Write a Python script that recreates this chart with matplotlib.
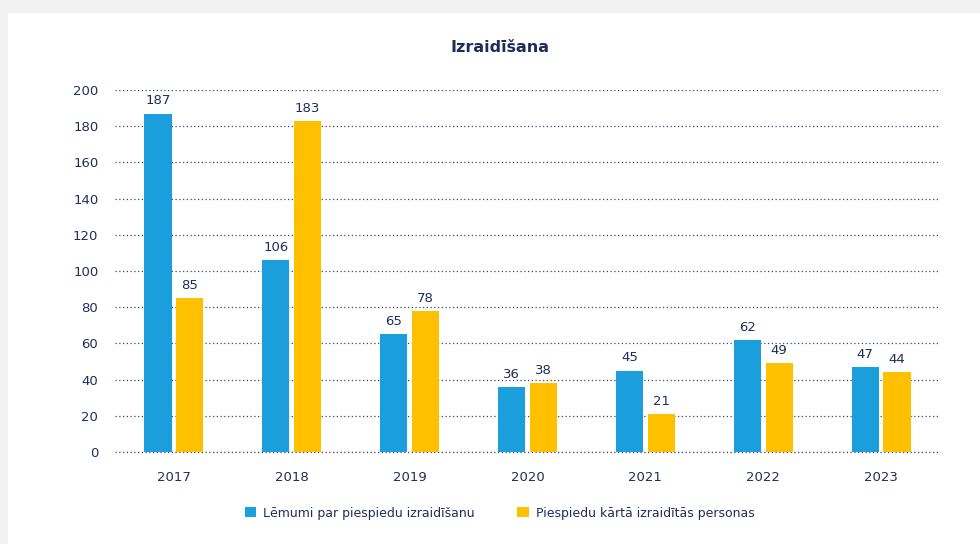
import numpy as np
import matplotlib.pyplot as plt
from matplotlib.patches import Rectangle

# data
years = ["2017", "2018", "2019", "2020", "2021", "2022", "2023"]
decisions = [187, 106, 65, 36, 45, 62, 47]
expelled = [85, 183, 78, 38, 21, 49, 44]
series_names = ["Lēmumi par piespiedu izraidīšanu", "Piespiedu kārtā izraidītās personas"]
y_ticks = [0, 20, 40, 60, 80, 100, 120, 140, 160, 180, 200]

BLUE = "#1A9FDC"
YELLOW = "#FFC000"
NAVY = "#1F2D5A"
GRID = "#3A4670"

plt.rcParams["font.family"] = ["DejaVu Sans"]

fig = plt.figure(figsize=(9.8, 5.44), dpi=100, facecolor="#F2F2F2")
# white card with a light shadow above
fig.patches.append(Rectangle((8 / 980, 0), 1, 1 - 13 / 544, transform=fig.transFigure,
                             facecolor="white", edgecolor="none", zorder=-5))

ax = fig.add_axes([115 / 980, 92 / 544, 825 / 980, 362 / 544])
ax.set_zorder(2)
ax.set_facecolor("white")

x = np.arange(len(years))
width = 0.23
offset = 0.135

bars1 = ax.bar(x - offset, decisions, width, color=BLUE, label=series_names[0], zorder=3)
bars2 = ax.bar(x + offset, expelled, width, color=YELLOW, label=series_names[1], zorder=3)

for bars in (bars1, bars2):
    for b in bars:
        ax.annotate(f"{int(b.get_height())}", (b.get_x() + b.get_width() / 2, b.get_height()),
                    xytext=(0, 4.5), textcoords="offset points", ha="center", va="bottom",
                    fontsize=9.5, color=NAVY)

ax.set_xlim(-0.5, len(years) - 0.5)
ax.set_ylim(0, 200)
ax.set_yticks(y_ticks)
ax.set_xticks(x)
ax.set_xticklabels(years)
ax.tick_params(axis="both", length=0, labelsize=9.5, labelcolor=NAVY)
ax.tick_params(axis="x", pad=14)
ax.tick_params(axis="y", pad=12)
ax.grid(axis="y", color=GRID, linestyle=(0, (1, 2)), linewidth=0.9, zorder=1)
for s in ax.spines.values():
    s.set_visible(False)
ax.axhline(0, color=GRID, linestyle=(0, (1, 2)), linewidth=0.9, zorder=1, clip_on=False)

fig.text(0.51, 1 - 48 / 544, "Izraidīšana", ha="center", va="center",
         fontsize=11.5, fontweight="bold", color=NAVY)

leg = fig.legend(loc="center", bbox_to_anchor=(0.51, 1 - 513 / 544), ncol=2, frameon=False,
                 fontsize=9, handlelength=0.9, handleheight=0.9, columnspacing=3.4,
                 handletextpad=0.6)
for t in leg.get_texts():
    t.set_color(NAVY)

fig.savefig("out.png", dpi=100, facecolor=fig.get_facecolor())
